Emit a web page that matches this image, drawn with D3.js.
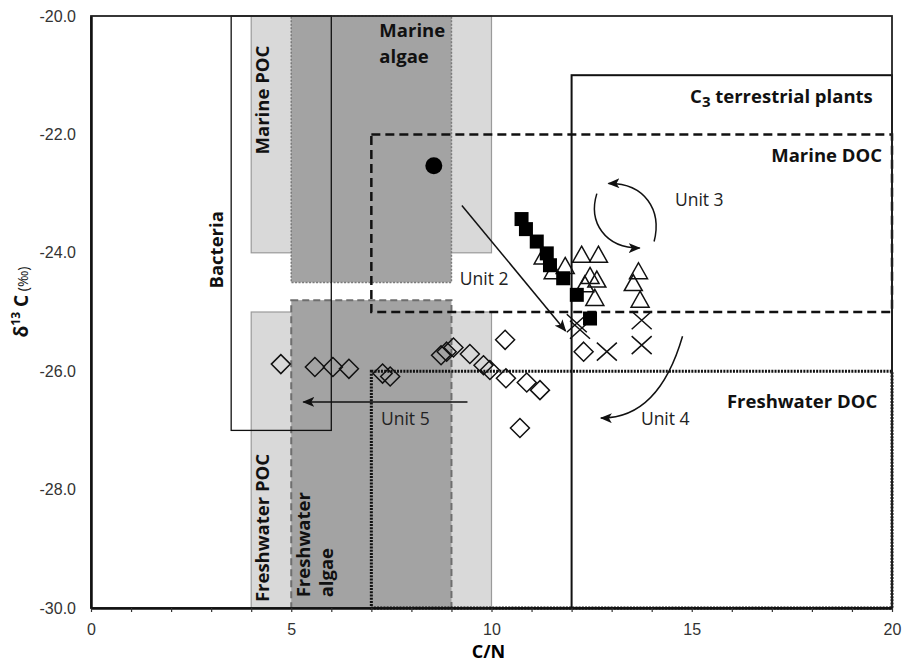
<!DOCTYPE html>
<html>
<head>
<meta charset="utf-8">
<script src="https://cdn.jsdelivr.net/npm/d3@7"></script>
<style>
  body { margin: 0; background: #fff; }
  .tick text { font-family: "Liberation Sans", Arial, sans-serif; font-size: 16px; fill: #333; }
  .region-label { font-family: "Open Sans", sans-serif; font-weight: 700; font-size: 18.5px; fill: #111; }
  .unit-label { font-family: "Open Sans", sans-serif; font-size: 17.5px; fill: #222; }
</style>
</head>
<body>
<script>
// source fields (C/N vs d13C)
var regionNames = ["Marine POC", "Freshwater POC", "Marine algae", "Freshwater algae",
    "Bacteria", "Marine DOC", "Freshwater DOC", "C3 terrestrial plants"];
var regionCN0 = [4, 4, 5, 5, 3.5, 7, 7, 12];
var regionCN1 = [10, 10, 9, 9, 6, 20, 20, 20];
var regionD0 = [-24, -30, -24.5, -30, -27, -25, -30, -30];
var regionD1 = [-20, -25, -20, -24.8, -20, -22, -26, -21];

// samples
var circleCN = [8.56];
var circleD13C = [-22.53];

var squareCN = [10.75, 10.86, 11.13, 11.38, 11.46, 11.79, 12.13, 12.46];
var squareD13C = [-23.43, -23.60, -23.81, -24.01, -24.21, -24.43, -24.71, -25.11];

var triangleCN = [11.29, 11.54, 11.84, 12.25, 12.67, 12.46, 12.63, 12.33, 12.58, 13.67, 13.54, 13.71];
var triangleD13C = [-24.07, -24.32, -24.23, -24.04, -24.04, -24.40, -24.46, -24.54, -24.77, -24.32, -24.52, -24.80];

var crossCN = [12.13, 12.21, 12.88, 13.75, 13.75];
var crossD13C = [-25.19, -25.30, -25.67, -25.14, -25.56];

var diamondCN = [4.74, 5.59, 6.04, 6.44, 7.28, 7.47, 8.74, 8.88, 9.05, 9.46, 9.80, 9.96,
    10.34, 10.36, 10.88, 11.21, 10.71, 12.30];
var diamondD13C = [-25.88, -25.93, -25.93, -25.96, -26.04, -26.09, -25.73, -25.67, -25.60, -25.71, -25.90, -25.98,
    -25.47, -26.12, -26.19, -26.32, -26.96, -25.67];

// unit arrows: [start, control1, control2, end] (straight ones have 2 points)
var unit2Arrow = [[9.26, -23.20], [11.85, -25.32]];
var unit5Arrow = [[9.40, -26.52], [5.30, -26.52]];
var unit3ArrowA = [[12.63, -23.00], [12.41, -23.48], [12.83, -23.92], [13.70, -23.92]];
var unit3ArrowB = [[14.06, -23.81], [14.26, -23.28], [13.83, -22.82], [12.92, -22.83]];
var unit4Arrow = [[14.77, -25.41], [14.37, -26.34], [13.68, -26.80], [12.73, -26.79]];

var unitLabels = ["Unit 2", "Unit 3", "Unit 4", "Unit 5"];
var unitLabelCN = [9.21, 14.58, 13.73, 7.24];
var unitLabelD13C = [-24.54, -23.21, -26.91, -26.91];

var xTicks = [0, 5, 10, 15, 20];
var yTicks = [-30, -28, -26, -24, -22, -20];

//SVG dimensions
var svgWidth = 903;
var svgHeight = 664;

var chartMargin = {
    top: 16,
    right: 11,
    bottom: 56,
    left: 91
};

var chartWidth = svgWidth - chartMargin.left - chartMargin.right;
var chartHeight = svgHeight - chartMargin.top - chartMargin.bottom;

var svg = d3.select("body")
    .append("svg")
    .attr("width", svgWidth)
    .attr("height", svgHeight);

var defs = svg.append("defs");
defs.append("marker")
    .attr("id", "arrowhead")
    .attr("markerUnits", "userSpaceOnUse")
    .attr("viewBox", "0 0 12 10")
    .attr("refX", 11)
    .attr("refY", 5)
    .attr("markerWidth", 12)
    .attr("markerHeight", 10)
    .attr("orient", "auto")
    .append("path")
    .attr("d", "M0,0 L12,5 L0,10 L3,5 Z")
    .attr("fill", "#111");

var chartGroup = svg.append("g")
    .attr("transform", `translate(${chartMargin.left}, ${chartMargin.top})`);

var xLinearScale = d3.scaleLinear().domain([0, 20]).range([0, chartWidth]);
var yLinearScale = d3.scaleLinear().domain([-30, -20]).range([chartHeight, 0]);

// region styles, same order as regionNames
var regionFill = ["#d9d9d9", "#d9d9d9", "#a3a3a3", "#a3a3a3", "none", "none", "none", "none"];
var regionStroke = ["#9a9a9a", "#9a9a9a", "#7a7a7a", "#6e6e6e", "#111", "#111", "#111", "#111"];
var regionWidth = [1.2, 1.2, 1.5, 2, 1.3, 2.5, 3, 2];
var regionDash = [null, null, "2,1.5", "7,4", null, "9,5", "2,1.2", null];

var regions = regionNames.map(function (name, i) {
    return { name: name, x0: regionCN0[i], x1: regionCN1[i], y0: regionD0[i], y1: regionD1[i], i: i };
});

chartGroup.selectAll("rect.region")
    .data(regions)
    .enter()
    .append("rect")
    .attr("class", "region")
    .attr("x", d => xLinearScale(d.x0))
    .attr("y", d => yLinearScale(d.y1))
    .attr("width", d => xLinearScale(d.x1) - xLinearScale(d.x0))
    .attr("height", d => yLinearScale(d.y0) - yLinearScale(d.y1))
    .attr("fill", d => regionFill[d.i])
    .attr("stroke", d => regionStroke[d.i])
    .attr("stroke-width", d => regionWidth[d.i])
    .attr("stroke-dasharray", d => regionDash[d.i]);

// region labels
function label(x, y, rot, anchor, lines) {
    var t = chartGroup.append("text")
        .attr("class", "region-label")
        .attr("text-anchor", anchor)
        .attr("transform", `translate(${x},${y}) rotate(${rot})`);
    lines.forEach(function (s, k) {
        t.append("tspan").attr("x", 0).attr("dy", k === 0 ? 0 : "1.2em").text(s);
    });
    return t;
}
label(xLinearScale(4.3) + 6, yLinearScale(-21.42), -90, "middle", ["Marine POC"]);
label(xLinearScale(7.2), yLinearScale(-20.36), 0, "start", ["Marine"]);
label(xLinearScale(7.2), yLinearScale(-20.8), 0, "start", ["algae"]);
label(xLinearScale(3.15) + 6, yLinearScale(-23.95), -90, "middle", ["Bacteria"]);
label(xLinearScale(4.3) + 6, yLinearScale(-29.9), -90, "start", ["Freshwater POC"]);
label(xLinearScale(5.33) + 6, yLinearScale(-29.82), -90, "start", ["Freshwater", "algae"]);
label(xLinearScale(19.75), yLinearScale(-22.46), 0, "end", ["Marine DOC"]);
label(xLinearScale(19.63), yLinearScale(-26.62), 0, "end", ["Freshwater DOC"]);

var c3 = chartGroup.append("text")
    .attr("class", "region-label")
    .attr("text-anchor", "end")
    .attr("x", xLinearScale(19.52))
    .attr("y", yLinearScale(-21.47));
c3.append("tspan").text("C");
c3.append("tspan").attr("dy", 4).style("font-size", "15px").text("3");
c3.append("tspan").attr("dy", -4).text(" terrestrial plants");

// arrows
var arrows = [unit2Arrow, unit5Arrow, unit3ArrowA, unit3ArrowB, unit4Arrow];
chartGroup.selectAll("path.arrow")
    .data(arrows)
    .enter()
    .append("path")
    .attr("class", "arrow")
    .attr("d", function (pts) {
        var p = d3.path();
        var s = pts.map(q => [xLinearScale(q[0]), yLinearScale(q[1])]);
        p.moveTo(s[0][0], s[0][1]);
        if (s.length === 2) p.lineTo(s[1][0], s[1][1]);
        else p.bezierCurveTo(s[1][0], s[1][1], s[2][0], s[2][1], s[3][0], s[3][1]);
        return p.toString();
    })
    .attr("fill", "none")
    .attr("stroke", "#111")
    .attr("stroke-width", 1.5)
    .attr("marker-end", "url(#arrowhead)");

chartGroup.selectAll("text.unit-label")
    .data(unitLabels)
    .enter()
    .append("text")
    .attr("class", "unit-label")
    .attr("x", (d, i) => xLinearScale(unitLabelCN[i]))
    .attr("y", (d, i) => yLinearScale(unitLabelD13C[i]))
    .text(d => d);

// marker shapes
function zipPts(xs, ys) { return xs.map((x, i) => [x, ys[i]]); }

chartGroup.selectAll("path.diamond")
    .data(zipPts(diamondCN, diamondD13C))
    .enter()
    .append("path")
    .attr("class", "diamond")
    .attr("transform", d => `translate(${xLinearScale(d[0])},${yLinearScale(d[1])})`)
    .attr("d", "M0,-9.5L9.5,0L0,9.5L-9.5,0Z")
    .attr("fill", "none")
    .attr("stroke", "#111")
    .attr("stroke-width", 1.5);

chartGroup.selectAll("path.cross")
    .data(zipPts(crossCN, crossD13C))
    .enter()
    .append("path")
    .attr("class", "cross")
    .attr("transform", d => `translate(${xLinearScale(d[0])},${yLinearScale(d[1])})`)
    .attr("d", "M-10,-9L10,9M-10,9L10,-9")
    .attr("fill", "none")
    .attr("stroke", "#111")
    .attr("stroke-width", 1.5);

chartGroup.selectAll("path.triangle")
    .data(zipPts(triangleCN, triangleD13C))
    .enter()
    .append("path")
    .attr("class", "triangle")
    .attr("transform", d => `translate(${xLinearScale(d[0])},${yLinearScale(d[1])})`)
    .attr("d", "M0,-9L9,7L-9,7Z")
    .attr("fill", "none")
    .attr("stroke", "#111")
    .attr("stroke-width", 1.5);

chartGroup.selectAll("rect.square")
    .data(zipPts(squareCN, squareD13C))
    .enter()
    .append("rect")
    .attr("class", "square")
    .attr("x", d => xLinearScale(d[0]) - 7)
    .attr("y", d => yLinearScale(d[1]) - 7)
    .attr("width", 14)
    .attr("height", 14)
    .attr("fill", "#000");

chartGroup.selectAll("circle.dot")
    .data(zipPts(circleCN, circleD13C))
    .enter()
    .append("circle")
    .attr("class", "dot")
    .attr("cx", d => xLinearScale(d[0]))
    .attr("cy", d => yLinearScale(d[1]))
    .attr("r", 8.5)
    .attr("fill", "#000");

// plot border
chartGroup.append("rect")
    .attr("width", chartWidth)
    .attr("height", chartHeight)
    .attr("fill", "none")
    .attr("stroke", "#222")
    .attr("stroke-width", 1.8);

//axis functions
var bottomAxis = d3.axisBottom(xLinearScale)
    .ticks(20)
    .tickSizeInner(4)
    .tickSizeOuter(0)
    .tickPadding(12)
    .tickFormat(d => xTicks.indexOf(d) >= 0 ? d : "");
var leftAxis = d3.axisLeft(yLinearScale)
    .tickValues(yTicks)
    .tickSize(0)
    .tickPadding(15)
    .tickFormat(d => d.toFixed(1));

var xAxis = chartGroup.append("g")
    .attr("transform", `translate(0, ${chartHeight})`)
    .call(bottomAxis);
xAxis.select(".domain").attr("stroke", "#111").attr("stroke-width", 2.5);
xAxis.selectAll(".tick line").attr("stroke", "#333").attr("stroke-width", 1.2);

var yAxis = chartGroup.append("g").call(leftAxis);
yAxis.select(".domain").attr("stroke", "#111").attr("stroke-width", 2.5);

// axis titles
chartGroup.append("text")
    .attr("x", chartWidth / 2 - 3)
    .attr("y", chartHeight + 50)
    .attr("text-anchor", "middle")
    .style("font-family", "Open Sans, sans-serif")
    .style("font-weight", 700)
    .style("font-size", "18px")
    .text("C/N");

var yTitle = svg.append("text")
    .attr("transform", "translate(28, 302) rotate(-90)")
    .attr("text-anchor", "middle")
    .style("font-family", "Open Sans, sans-serif")
    .style("font-size", "19px")
    .style("fill", "#111");
yTitle.append("tspan").style("font-weight", 700).text("δ");
yTitle.append("tspan").style("font-weight", 700).style("font-size", "12px").attr("dy", -8).text("13");
yTitle.append("tspan").style("font-weight", 700).attr("dy", 8).text(" C");
yTitle.append("tspan").style("font-size", "14px").text(" (‰)");
</script>
</body>
</html>
